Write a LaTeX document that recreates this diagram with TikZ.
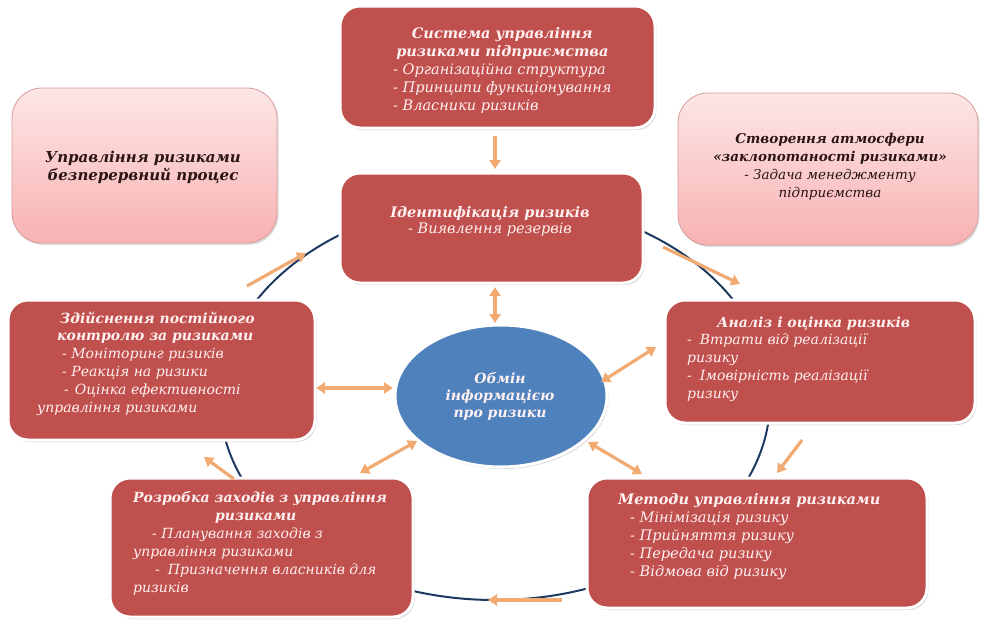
\documentclass[tikz,border=0pt]{standalone}
\usepackage{fontspec}
\setmainfont{DejaVu Serif}
\usetikzlibrary{shadows,arrows.meta,shapes.geometric}
\definecolor{boxred}{HTML}{C0504D}
\definecolor{txtw}{HTML}{FFF1F1}
\definecolor{pinkt}{HTML}{FDE6E6}
\definecolor{pinkb}{HTML}{F8B2B2}
\definecolor{pinkd}{HTML}{D89A9A}
\definecolor{ellblue}{HTML}{4F81BD}
\definecolor{ringc}{HTML}{1F3A60}
\definecolor{arrc}{HTML}{F0AA72}
\definecolor{darktxt}{HTML}{2A1414}
\newcommand\hdc[1]{\multicolumn{1}{@{}c@{}}{\bfseries #1}}
\newcommand\tb[1]{\textbf{#1}}
\begin{document}
\begin{tikzpicture}[x=1pt,y=-1pt,
  redbox/.style={rectangle, draw=white, line width=3pt, fill=boxred, rounded corners=20pt,
    drop shadow={shadow xshift=1.5pt, shadow yshift=-2pt, opacity=.35, fill=gray}},
  pinkbox/.style={rectangle, draw=pinkd, line width=0.8pt, top color=pinkt, bottom color=pinkb, rounded corners=30pt,
    drop shadow={shadow xshift=1.5pt, shadow yshift=-2pt, opacity=.25, fill=gray}},
  wtxt/.style={inner sep=0pt, text=txtw, font=\itshape\fontsize{14.5}{18.2}\selectfont},
  dtxt/.style={inner sep=0pt, text=darktxt, font=\itshape\fontsize{15}{18}\selectfont},
  oarrow/.style={draw=arrc, line width=3.2pt, -{Triangle[length=9pt,width=11pt]}},
  odarrow/.style={draw=arrc, line width=3.2pt, {Triangle[length=9pt,width=11pt]}-{Triangle[length=9pt,width=11pt]}}
]
\useasboundingbox (0,0) rectangle (984,629);
\fill[white] (0,0) rectangle (984,629);

% large ring
\node[ellipse, draw=ringc, line width=2pt, minimum width=550pt, minimum height=400pt, inner sep=0pt] (ring) at (495,400) {};

% boxes
\node[redbox, minimum width=315pt, minimum height=122pt] (top) at (497.5,67) {};
\node[pinkbox, minimum width=265pt, minimum height=155pt] (tl) at (144.5,165.5) {};
\node[pinkbox, minimum width=300pt, minimum height=152pt] (tr) at (828,169) {};
\node[redbox, minimum width=303pt, minimum height=110pt] (ident) at (491.5,228) {};
\node[redbox, minimum width=307pt, minimum height=140pt] (ctrl) at (161.5,370) {};
\node[redbox, minimum width=310pt, minimum height=123pt] (anal) at (820,361.5) {};
\node[redbox, minimum width=303pt, minimum height=139pt] (dev) at (261.5,547.5) {};
\node[redbox, minimum width=340pt, minimum height=130pt] (meth) at (757,543) {};
\node[ellipse, draw=white, line width=3pt, fill=ellblue, minimum width=212pt, minimum height=142pt, inner sep=0pt,
  drop shadow={shadow xshift=1.5pt, shadow yshift=-2pt, opacity=.3, fill=gray}] (info) at (501,396) {};

% texts
\node[wtxt, anchor=base west] (topT) at (393,38) {\begin{tabular}[t]{@{}l@{}}
\hdc{Система управління}\\
\hdc{ризиками підприємства}\\
- Організаційна структура\\
- Принципи функціонування\\
- Власники ризиків
\end{tabular}};

\node[dtxt, anchor=base] (tlT) at (143,162) {\begin{tabular}[t]{@{}c@{}}
\tb{Управління ризиками}\\
\tb{безперервний процес}
\end{tabular}};

\node[dtxt, anchor=base, font=\itshape\fontsize{13.5}{18}\selectfont] (trT) at (830,143) {\begin{tabular}[t]{@{}c@{}}
\tb{Створення атмосфери}\\
\tb{«заклопотаності ризиками»}\\
- Задача менеджменту\\
підприємства
\end{tabular}};

\node[wtxt, anchor=base, font=\itshape\fontsize{14.5}{16.5}\selectfont] (identT) at (490,217) {\begin{tabular}[t]{@{}c@{}}
\tb{Ідентифікація ризиків}\\
- Виявлення резервів
\end{tabular}};

\node[wtxt, anchor=base west, font=\itshape\fontsize{14}{17.8}\selectfont] (ctrlT) at (37,323) {\begin{tabular}[t]{@{}l@{}}
\hspace{23pt}\tb{Здійснення постійного}\\
\hspace{20pt}\tb{контролю за ризиками}\\
\hspace{25pt}- Моніторинг ризиків\\
\hspace{25pt}- Реакція на ризики\\
\hspace{27pt}-\hspace{6pt}Оцінка ефективності\\
управління ризиками
\end{tabular}};

\node[wtxt, anchor=base west, font=\itshape\fontsize{14}{17.8}\selectfont] (analT) at (687,327) {\begin{tabular}[t]{@{}l@{}}
\hspace{30pt}\tb{Аналіз і оцінка ризиків}\\
-\hspace{8pt}Втрати від реалізації\\
ризику\\
-\hspace{8pt}Імовірність реалізації\\
ризику
\end{tabular}};

\node[wtxt, anchor=base, font=\bfseries\itshape\fontsize{14}{17}\selectfont] (infoT) at (500,383) {\begin{tabular}[t]{@{}c@{}}
Обмін\\
інформацією\\
про ризики
\end{tabular}};

\node[wtxt, anchor=base west, font=\itshape\fontsize{14}{18}\selectfont] (devT) at (133,502) {\begin{tabular}[t]{@{}l@{}}
\tb{Розробка заходів з управління}\\
\hspace{82pt}\tb{ризиками}\\
\hspace{19pt}- Планування заходів з\\
управління ризиками\\
\hspace{22pt}-\hspace{8pt}Призначення власників для\\
ризиків
\end{tabular}};

\node[wtxt, anchor=base west, font=\itshape\fontsize{14.5}{18.2}\selectfont] (methT) at (618,504) {\begin{tabular}[t]{@{}l@{}}
\tb{Методи управління ризиками}\\
\hspace{12pt}- Мінімізація ризику\\
\hspace{12pt}- Прийняття ризику\\
\hspace{12pt}- Передача ризику\\
\hspace{12pt}- Відмова від ризику
\end{tabular}};

% arrow end points
\coordinate (a1s) at (495,136); \coordinate (a1e) at (495,169);
\coordinate (a2s) at (495,287); \coordinate (a2e) at (495,323);
\coordinate (a3s) at (247,286); \coordinate (a3e) at (306,253);
\coordinate (a4s) at (663,247); \coordinate (a4e) at (740,284);
\coordinate (a5s) at (802,440); \coordinate (a5e) at (777,473);
\coordinate (a6s) at (562,600); \coordinate (a6e) at (488,600);
\coordinate (a7s) at (234,479); \coordinate (a7e) at (204,457);
\coordinate (a8s) at (316,388); \coordinate (a8e) at (393,388);
\coordinate (a9s) at (601,382); \coordinate (a9e) at (656,347);
\coordinate (a10s) at (360,473); \coordinate (a10e) at (417,441);
\coordinate (a11s) at (588,442); \coordinate (a11e) at (642,474);

\draw[oarrow] (a1s) -- (a1e);
\draw[odarrow] (a2s) -- (a2e);
\draw[oarrow] (a3s) -- (a3e);
\draw[oarrow] (a4s) -- (a4e);
\draw[oarrow] (a5s) -- (a5e);
\draw[oarrow] (a6s) -- (a6e);
\draw[oarrow] (a7s) -- (a7e);
\draw[odarrow] (a8s) -- (a8e);
\draw[odarrow] (a9s) -- (a9e);
\draw[odarrow] (a10s) -- (a10e);
\draw[odarrow] (a11s) -- (a11e);
\end{tikzpicture}
\end{document}
